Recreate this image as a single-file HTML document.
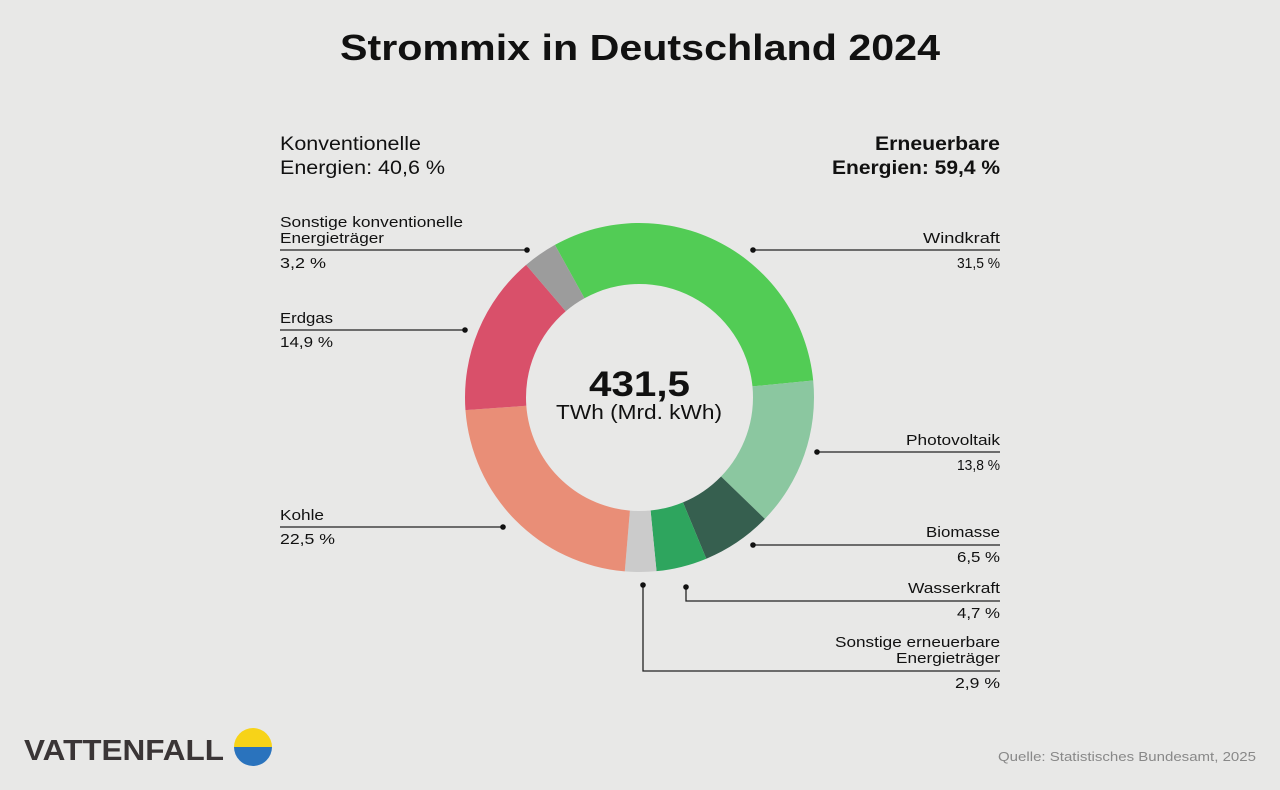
<!DOCTYPE html>
<html><head><meta charset="utf-8"><style>
html,body{margin:0;padding:0;background:#e8e8e7;}
svg{display:block;font-family:"Liberation Sans",sans-serif;}
</style></head><body>
<svg id="s" width="1280" height="790" viewBox="0 0 1280 790" xmlns="http://www.w3.org/2000/svg">
<rect width="1280" height="790" fill="#e8e8e7"/>
<text x="340" y="60" font-size="36" font-weight="bold" fill="#111" textLength="600" lengthAdjust="spacingAndGlyphs">Strommix in Deutschland 2024</text>
<g id="donut"></g>
<text x="589" y="396" font-size="35" font-weight="bold" fill="#111" textLength="101" lengthAdjust="spacingAndGlyphs">431,5</text>
<text x="556" y="419" font-size="20" fill="#111" textLength="166" lengthAdjust="spacingAndGlyphs">TWh (Mrd. kWh)</text>
<g font-size="19" fill="#111" lengthAdjust="spacingAndGlyphs">
<text x="280" y="150" textLength="141" lengthAdjust="spacingAndGlyphs">Konventionelle</text>
<text x="280" y="174" textLength="165" lengthAdjust="spacingAndGlyphs">Energien: 40,6 %</text>
<text x="875" y="150" font-weight="bold" textLength="125" lengthAdjust="spacingAndGlyphs">Erneuerbare</text>
<text x="832" y="174" font-weight="bold" textLength="168" lengthAdjust="spacingAndGlyphs">Energien: 59,4 %</text>
</g>
<g font-size="15" fill="#111">
<text x="280" y="227" textLength="183" lengthAdjust="spacingAndGlyphs">Sonstige konventionelle</text>
<text x="280" y="243" textLength="104" lengthAdjust="spacingAndGlyphs">Energieträger</text>
<text x="280" y="268" textLength="46" lengthAdjust="spacingAndGlyphs">3,2 %</text>
<text x="280" y="323" textLength="53" lengthAdjust="spacingAndGlyphs">Erdgas</text>
<text x="280" y="347" textLength="53" lengthAdjust="spacingAndGlyphs">14,9 %</text>
<text x="280" y="520" textLength="44" lengthAdjust="spacingAndGlyphs">Kohle</text>
<text x="280" y="544" textLength="55" lengthAdjust="spacingAndGlyphs">22,5 %</text>
<text x="923" y="243" textLength="77" lengthAdjust="spacingAndGlyphs">Windkraft</text>
<text x="957" y="268" textLength="43" lengthAdjust="spacingAndGlyphs">31,5 %</text>
<text x="906" y="445" textLength="94" lengthAdjust="spacingAndGlyphs">Photovoltaik</text>
<text x="957" y="470" textLength="43" lengthAdjust="spacingAndGlyphs">13,8 %</text>
<text x="926" y="537" textLength="74" lengthAdjust="spacingAndGlyphs">Biomasse</text>
<text x="957" y="562" textLength="43" lengthAdjust="spacingAndGlyphs">6,5 %</text>
<text x="908" y="593" textLength="92" lengthAdjust="spacingAndGlyphs">Wasserkraft</text>
<text x="957" y="618" textLength="43" lengthAdjust="spacingAndGlyphs">4,7 %</text>
<text x="835" y="647" textLength="165" lengthAdjust="spacingAndGlyphs">Sonstige erneuerbare</text>
<text x="896" y="663" textLength="104" lengthAdjust="spacingAndGlyphs">Energieträger</text>
<text x="955" y="688" textLength="45" lengthAdjust="spacingAndGlyphs">2,9 %</text>
</g>
<g stroke="#222" stroke-width="1.3" fill="none">
<path d="M280 250H527"/><path d="M280 330H465"/><path d="M280 527H503"/>
<path d="M753 250H1000"/><path d="M817 452H1000"/><path d="M753 545H1000"/>
<path d="M686 587V601H1000"/><path d="M643 585V671H1000"/>
</g>
<g fill="#111">
<circle cx="527" cy="250" r="2.8"/><circle cx="465" cy="330" r="2.8"/><circle cx="503" cy="527" r="2.8"/>
<circle cx="753" cy="250" r="2.8"/><circle cx="817" cy="452" r="2.8"/><circle cx="753" cy="545" r="2.8"/>
<circle cx="686" cy="587" r="2.8"/><circle cx="643" cy="585" r="2.8"/>
</g>
<text x="24" y="760" font-size="29" font-weight="bold" fill="#3a3536" textLength="200" lengthAdjust="spacingAndGlyphs">VATTENFALL</text>
<path d="M234 747A19 19 0 0 1 272 747Z" fill="#f7d318"/>
<path d="M234 747A19 19 0 0 0 272 747Z" fill="#2a73bd"/>
<text x="998" y="761" font-size="13" fill="#888" textLength="258" lengthAdjust="spacingAndGlyphs">Quelle: Statistisches Bundesamt, 2025</text>
<script>
(function(){
var d=[[31.5,"#52cc55"],[13.8,"#8bc7a0"],[6.5,"#365f4f"],[4.7,"#2ea55e"],[2.9,"#cbcbcb"],[22.5,"#e98e77"],[14.9,"#d9506a"],[3.2,"#9c9c9c"]];
var cx=639.5,cy=397.5,R=174.5,r=113.5,a=-29,g=document.getElementById("donut"),ns="http://www.w3.org/2000/svg";
function p(rad,deg){var t=deg*Math.PI/180;return (cx+rad*Math.sin(t)).toFixed(2)+" "+(cy-rad*Math.cos(t)).toFixed(2);}
d.forEach(function(s){var b=a+s[0]*3.6,l=(b-a)>180?1:0;
var e=document.createElementNS(ns,"path");
e.setAttribute("d","M"+p(R,a)+"A"+R+" "+R+" 0 "+l+" 1 "+p(R,b)+"L"+p(r,b)+"A"+r+" "+r+" 0 "+l+" 0 "+p(r,a)+"Z");
e.setAttribute("fill",s[1]);g.appendChild(e);a=b;});
})();
</script>
</svg>
</body></html>
